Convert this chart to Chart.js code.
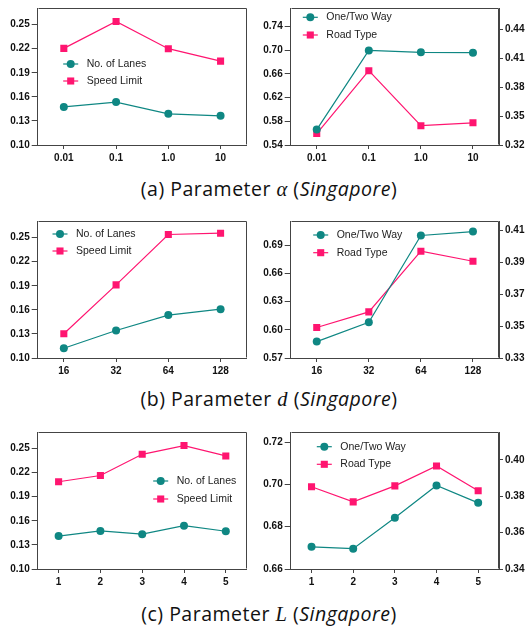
<!DOCTYPE html>
<html>
<head>
<meta charset="utf-8">
<script src="https://cdn.jsdelivr.net/npm/chart.js@4/dist/chart.umd.min.js"></script>
<style>
  html,body{margin:0;padding:0;background:#fff;}
  body{width:528px;height:633px;position:relative;overflow:hidden;}
  .c{position:absolute;}
  .cap{position:absolute;left:0;width:528px;text-align:center;font-family:"Open Sans",Lato,sans-serif;font-size:19.5px;letter-spacing:0.5px;line-height:22px;color:#111;padding-left:10px;box-sizing:border-box;}
  .m{font-family:"Liberation Serif","DejaVu Serif",serif;font-style:italic;font-size:20.5px;}
</style>
</head>
<body>
<div class="c" style="left:0;top:0"><canvas id="a1" width="258" height="170"></canvas></div>
<div class="c" style="left:258px;top:0"><canvas id="a2" width="270" height="170"></canvas></div>
<div class="cap" style="top:178px">(a) Parameter <span class="m">α</span> (<i>Singapore</i>)</div>
<div class="c" style="left:0;top:213px"><canvas id="b1" width="258" height="170"></canvas></div>
<div class="c" style="left:258px;top:213px"><canvas id="b2" width="270" height="170"></canvas></div>
<div class="cap" style="top:388px">(b) Parameter <span class="m">d</span> (<i>Singapore</i>)</div>
<div class="c" style="left:0;top:424px"><canvas id="c1" width="258" height="170"></canvas></div>
<div class="c" style="left:258px;top:424px"><canvas id="c2" width="270" height="170"></canvas></div>
<div class="cap" style="top:603px">(c) Parameter <span class="m">L</span> (<i>Singapore</i>)</div>
<script>
// ---- data ----
const alphaLabels = ['0.01', '0.1', '1.0', '10'];
const alphaLanes  = [0.1474, 0.1535, 0.1388, 0.1364];
const alphaSpeed  = [0.2204, 0.2539, 0.2200, 0.2045];
const alphaOneTwo = [0.5660, 0.6998, 0.6965, 0.6959];
const alphaRoad   = [0.3319, 0.3970, 0.3400, 0.3430];

const dLabels  = ['16', '32', '64', '128'];
const dLanes   = [0.1122, 0.1343, 0.1535, 0.1608];
const dSpeed   = [0.1302, 0.1911, 0.2539, 0.2555];
const dOneTwo  = [0.5874, 0.6080, 0.7001, 0.7043];
const dRoad    = [0.3491, 0.3589, 0.3969, 0.3906];

const lLabels  = ['1', '2', '3', '4', '5'];
const lLanes   = [0.1410, 0.1474, 0.1434, 0.1539, 0.1470];
const lSpeed   = [0.2086, 0.2164, 0.2427, 0.2536, 0.2407];
const lOneTwo  = [0.6705, 0.6696, 0.6842, 0.6995, 0.6913];
const lRoad    = [0.3852, 0.3769, 0.3857, 0.3966, 0.3830];

const leftTicks        = [0.10, 0.13, 0.16, 0.19, 0.22, 0.25];
const alphaOneTwoTicks = [0.54, 0.58, 0.62, 0.66, 0.70, 0.74];
const alphaRoadTicks   = [0.32, 0.35, 0.38, 0.41, 0.44];
const dOneTwoTicks     = [0.57, 0.60, 0.63, 0.66, 0.69];
const dRoadTicks       = [0.33, 0.35, 0.37, 0.39, 0.41];
const lOneTwoTicks     = [0.66, 0.68, 0.70, 0.72];
const lRoadTicks       = [0.34, 0.36, 0.38, 0.40];

const seriesNames = { lanes: 'No. of Lanes', speed: 'Speed Limit', oneTwo: 'One/Two Way', road: 'Road Type' };

// ---- styling ----
const TEAL = '#0f8783';
const PINK = '#ff1570';
const AXIS = '#444';
const TICKFONT = { family: '"Liberation Sans", Arial, sans-serif', size: 10, weight: 'bold' };

function tealDs(label, data, axis) {
  return { label, data, yAxisID: axis, borderColor: TEAL, backgroundColor: TEAL,
    borderWidth: 1.2, pointStyle: 'circle', pointRadius: 4, pointBorderWidth: 0, tension: 0 };
}
function pinkDs(label, data, axis) {
  return { label, data, yAxisID: axis, borderColor: PINK, backgroundColor: PINK,
    borderWidth: 1.2, pointStyle: 'rect', pointRadius: 5, pointBorderWidth: 0, tension: 0 };
}

function yAxis(pos, min, max, ticksArr, width, tickLen, pad) {
  return {
    type: 'linear', position: pos, min, max,
    afterBuildTicks: s => { s.ticks = ticksArr.map(v => ({ value: v })); },
    afterFit: s => { s.width = width; },
    grid: { drawOnChartArea: false, drawTicks: true, tickLength: tickLen, color: AXIS, tickColor: AXIS, lineWidth: 1 },
    border: { display: true, color: AXIS, width: 1 },
    ticks: { font: TICKFONT, color: '#111', padding: pad, autoSkip: false, callback: v => Number(v).toFixed(2) }
  };
}
function xAxis() {
  return {
    type: 'category', offset: true,
    afterFit: s => { s.height = 25; },
    grid: { drawOnChartArea: false, drawTicks: true, tickLength: 4, offset: false, color: AXIS, tickColor: AXIS },
    border: { display: true, color: AXIS, width: 1 },
    ticks: { font: TICKFONT, color: '#111', padding: 3, autoSkip: false, maxRotation: 0 }
  };
}

const framePlugin = {
  id: 'frameLegend',
  afterDraw(chart, args, opts) {
    const ctx = chart.ctx, a = chart.chartArea;
    ctx.save();
    ctx.strokeStyle = AXIS; ctx.lineWidth = 1;
    const l = Math.round(a.left) + 0.5, r = Math.round(a.right) - 0.5;
    const t = Math.round(a.top) + 0.5, b = Math.round(a.bottom) - 0.5;
    ctx.beginPath();
    ctx.moveTo(l, t); ctx.lineTo(r, t); ctx.lineTo(r, b);
    ctx.stroke();
    // legend
    const lg = opts;
    chart.data.datasets.forEach((ds, i) => {
      const y = lg.y + i * lg.dy;
      const mx = lg.x;
      ctx.strokeStyle = ds.borderColor; ctx.lineWidth = 1.2;
      ctx.beginPath(); ctx.moveTo(mx - 7.5, y); ctx.lineTo(mx + 7.5, y); ctx.stroke();
      ctx.fillStyle = ds.backgroundColor;
      Chart.helpers.drawPoint(ctx, { pointStyle: ds.pointStyle, rotation: 0, radius: ds.pointRadius, borderWidth: 0 }, mx, y);
      ctx.fillStyle = '#222';
      ctx.font = '10.5px "Liberation Sans", Arial, sans-serif';
      ctx.textBaseline = 'middle'; ctx.textAlign = 'left';
      ctx.fillText(ds.label, mx + 16, y);
    });
    ctx.restore();
  }
};

function make(id, labels, datasets, scales, padding, legend) {
  new Chart(document.getElementById(id), {
    type: 'line',
    data: { labels, datasets },
    options: {
      responsive: false, animation: false, devicePixelRatio: 1,
      layout: { padding },
      scales,
      plugins: { legend: { display: false }, tooltip: { enabled: false }, frameLegend: legend }
    },
    plugins: [framePlugin]
  });
}

const leftPad = { top: 5, right: 11.3, left: 0, bottom: 0 };
const rightPad = { top: 5, right: 0, left: 0, bottom: 0 };

make('a1', alphaLabels,
  [tealDs(seriesNames.lanes, alphaLanes, 'y'), pinkDs(seriesNames.speed, alphaSpeed, 'y')],
  { x: xAxis(), y: yAxis('left', 0.10, 0.2707, leftTicks, 37.7, 6, 2) },
  leftPad, { x: 70.7, y: 64, dy: 17 });
make('a2', alphaLabels,
  [tealDs(seriesNames.oneTwo, alphaOneTwo, 'y'), pinkDs(seriesNames.road, alphaRoad, 'y2')],
  { x: xAxis(), y: yAxis('left', 0.54, 0.7714, alphaOneTwoTicks, 32.7, 6, 2),
    y2: yAxis('right', 0.32, 0.462, alphaRoadTicks, 29, 4, 2) },
  rightPad, { x: 52.3, y: 17.3, dy: 17.7 });

make('b1', dLabels,
  [tealDs(seriesNames.lanes, dLanes, 'y'), pinkDs(seriesNames.speed, dSpeed, 'y')],
  { x: xAxis(), y: yAxis('left', 0.10, 0.2707, leftTicks, 37.7, 6, 2) },
  leftPad, { x: 60, y: 21, dy: 17 });
make('b2', dLabels,
  [tealDs(seriesNames.oneTwo, dOneTwo, 'y'), pinkDs(seriesNames.road, dRoad, 'y2')],
  { x: xAxis(), y: yAxis('left', 0.57, 0.7155, dOneTwoTicks, 32.7, 6, 2),
    y2: yAxis('right', 0.33, 0.4158, dRoadTicks, 29, 4, 2) },
  rightPad, { x: 62.7, y: 22, dy: 17.7 });

make('c1', lLabels,
  [tealDs(seriesNames.lanes, lLanes, 'y'), pinkDs(seriesNames.speed, lSpeed, 'y')],
  { x: xAxis(), y: yAxis('left', 0.10, 0.2705, leftTicks, 37.7, 6, 2) },
  leftPad, { x: 160.7, y: 57, dy: 18 });
make('c2', lLabels,
  [tealDs(seriesNames.oneTwo, lOneTwo, 'y'), pinkDs(seriesNames.road, lRoad, 'y2')],
  { x: xAxis(), y: yAxis('left', 0.66, 0.7248, lOneTwoTicks, 32.7, 6, 2),
    y2: yAxis('right', 0.34, 0.4153, lRoadTicks, 29, 4, 2) },
  rightPad, { x: 66.3, y: 22.7, dy: 17.6 });
</script>
</body>
</html>
